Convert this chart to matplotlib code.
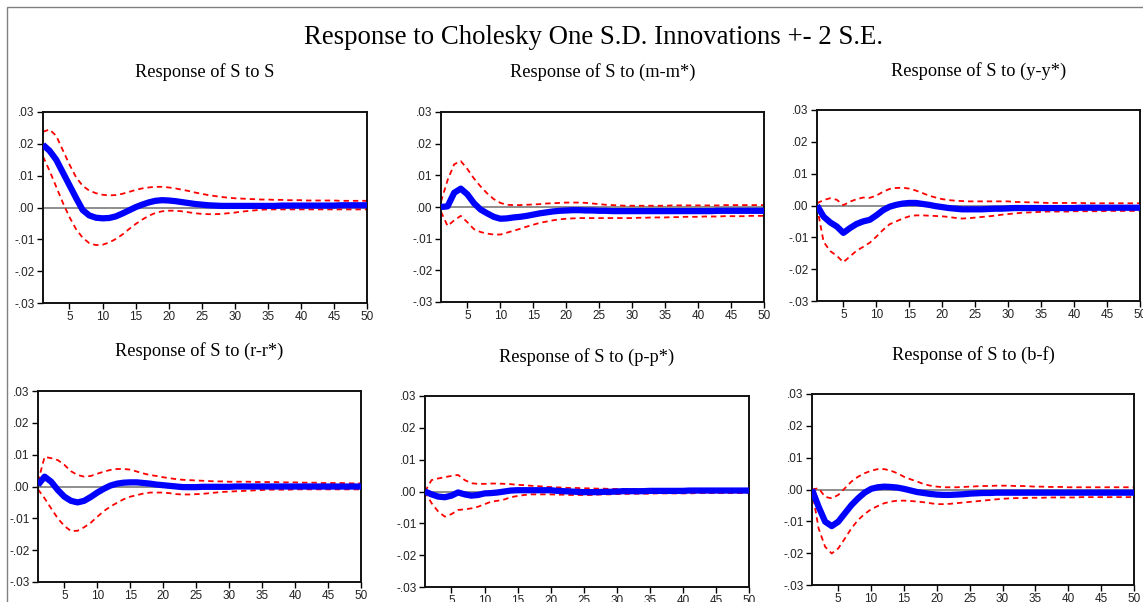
import matplotlib
matplotlib.use("Agg")
import matplotlib.pyplot as plt
from matplotlib.patches import Rectangle
from matplotlib.ticker import FuncFormatter

periods = list(range(1, 51))

titles = ["Response of S to S", "Response of S to (m-m*)", "Response of S to (y-y*)",
          "Response of S to (r-r*)", "Response of S to (p-p*)", "Response of S to (b-f)"]

p1_mid = [0.0197,0.0178,0.0150,0.0110,0.0070,0.0030,-0.0008,-0.0025,-0.0032,-0.0034,
          -0.0033,-0.0028,-0.0019,-0.0009,0.0001,0.0009,0.0016,0.0021,0.0023,0.0022,
          0.0020,0.0017,0.0014,0.0011,0.0009,0.0007,0.0006,0.0005,0.0005,0.0005,
          0.0005,0.0005,0.0005,0.0005,0.0005,0.0005,0.0006,0.0006,0.0006,0.0006,
          0.0006,0.0006,0.0006,0.0006,0.0006,0.0007,0.0007,0.0007,0.0007,0.0007]
p1_up = [0.0238,0.0245,0.0225,0.0180,0.0135,0.0095,0.0068,0.0053,0.0045,0.0040,
         0.0038,0.0039,0.0043,0.0049,0.0055,0.0060,0.0063,0.0065,0.0065,0.0063,
         0.0060,0.0056,0.0052,0.0047,0.0043,0.0039,0.0036,0.0033,0.0031,0.0029,
         0.0028,0.0027,0.0026,0.0025,0.0025,0.0024,0.0024,0.0023,0.0023,0.0023,
         0.0022,0.0022,0.0022,0.0022,0.0022,0.0021,0.0021,0.0021,0.0021,0.0021]
p1_lo = [0.0160,0.0115,0.0065,0.0015,-0.0030,-0.0068,-0.0095,-0.0112,-0.0118,-0.0117,
         -0.0110,-0.0099,-0.0085,-0.0068,-0.0052,-0.0038,-0.0026,-0.0017,-0.0012,-0.0010,
         -0.0010,-0.0012,-0.0015,-0.0018,-0.0020,-0.0021,-0.0021,-0.0020,-0.0018,-0.0016,
         -0.0013,-0.0011,-0.0009,-0.0007,-0.0006,-0.0006,-0.0006,-0.0006,-0.0006,-0.0006,
         -0.0006,-0.0006,-0.0006,-0.0006,-0.0006,-0.0006,-0.0006,-0.0006,-0.0006,-0.0006]

p2_mid = [0.0000,0.0002,0.0045,0.0058,0.0040,0.0012,-0.0008,-0.0020,-0.0031,-0.0037,
          -0.0036,-0.0033,-0.0031,-0.0028,-0.0024,-0.0020,-0.0017,-0.0014,-0.0012,-0.0011,
          -0.0010,-0.0010,-0.0011,-0.0011,-0.0012,-0.0012,-0.0013,-0.0013,-0.0013,-0.0013,
          -0.0013,-0.0013,-0.0013,-0.0013,-0.0013,-0.0013,-0.0013,-0.0013,-0.0013,-0.0013,
          -0.0013,-0.0013,-0.0012,-0.0012,-0.0012,-0.0012,-0.0012,-0.0012,-0.0012,-0.0012]
p2_up = [0.0017,0.0085,0.0135,0.0145,0.0120,0.0090,0.0065,0.0043,0.0025,0.0013,
         0.0007,0.0006,0.0006,0.0007,0.0008,0.0009,0.0011,0.0012,0.0013,0.0014,
         0.0014,0.0014,0.0013,0.0011,0.0009,0.0007,0.0006,0.0005,0.0004,0.0004,
         0.0004,0.0004,0.0004,0.0004,0.0004,0.0005,0.0005,0.0005,0.0005,0.0005,
         0.0005,0.0005,0.0005,0.0006,0.0006,0.0006,0.0006,0.0006,0.0006,0.0006]
p2_lo = [-0.0015,-0.0060,-0.0042,-0.0028,-0.0048,-0.0070,-0.0079,-0.0084,-0.0087,-0.0087,
         -0.0081,-0.0075,-0.0069,-0.0062,-0.0056,-0.0050,-0.0046,-0.0042,-0.0039,-0.0037,
         -0.0036,-0.0035,-0.0035,-0.0035,-0.0035,-0.0035,-0.0035,-0.0035,-0.0035,-0.0035,
         -0.0034,-0.0034,-0.0033,-0.0033,-0.0033,-0.0032,-0.0032,-0.0031,-0.0031,-0.0031,
         -0.0030,-0.0030,-0.0030,-0.0029,-0.0029,-0.0029,-0.0029,-0.0028,-0.0028,-0.0028]

p3_mid = [0.0000,-0.0035,-0.0053,-0.0066,-0.0086,-0.0071,-0.0058,-0.0050,-0.0045,-0.0031,
          -0.0015,-0.0004,0.0002,0.0006,0.0008,0.0008,0.0005,0.0002,-0.0002,-0.0005,
          -0.0008,-0.0010,-0.0012,-0.0012,-0.0012,-0.0012,-0.0011,-0.0010,-0.0010,-0.0009,
          -0.0008,-0.0008,-0.0008,-0.0008,-0.0008,-0.0008,-0.0008,-0.0008,-0.0008,-0.0008,
          -0.0007,-0.0007,-0.0007,-0.0007,-0.0007,-0.0007,-0.0007,-0.0007,-0.0007,-0.0007]
p3_up = [0.0007,0.0017,0.0023,0.0018,0.0001,0.0012,0.0020,0.0025,0.0024,0.0031,
         0.0043,0.0052,0.0055,0.0056,0.0053,0.0047,0.0039,0.0031,0.0025,0.0020,
         0.0017,0.0015,0.0014,0.0013,0.0013,0.0013,0.0013,0.0013,0.0013,0.0013,
         0.0011,0.0011,0.0010,0.0010,0.0009,0.0008,0.0008,0.0008,0.0008,0.0008,
         0.0008,0.0007,0.0007,0.0007,0.0007,0.0007,0.0007,0.0007,0.0007,0.0007]
p3_lo = [-0.0004,-0.0114,-0.0143,-0.0158,-0.0178,-0.0160,-0.0142,-0.0130,-0.0117,-0.0098,
         -0.0077,-0.0059,-0.0050,-0.0041,-0.0034,-0.0031,-0.0031,-0.0032,-0.0033,-0.0034,
         -0.0036,-0.0039,-0.0041,-0.0040,-0.0038,-0.0036,-0.0034,-0.0032,-0.0029,-0.0027,
         -0.0025,-0.0023,-0.0022,-0.0021,-0.0020,-0.0019,-0.0019,-0.0019,-0.0019,-0.0018,
         -0.0018,-0.0018,-0.0018,-0.0018,-0.0017,-0.0017,-0.0017,-0.0017,-0.0017,-0.0017]

p4_mid = [0.0005,0.0031,0.0015,-0.0011,-0.0032,-0.0045,-0.0050,-0.0045,-0.0033,-0.0019,
          -0.0007,0.0003,0.0009,0.0012,0.0013,0.0013,0.0011,0.0009,0.0006,0.0004,
          0.0002,0.0000,-0.0002,-0.0002,-0.0002,-0.0001,-0.0001,-0.0001,-0.0001,-0.0001,
          0.0000,0.0000,0.0000,0.0000,0.0000,0.0000,0.0000,0.0000,0.0000,0.0000,
          0.0000,0.0000,0.0000,0.0000,0.0000,0.0000,0.0000,0.0000,0.0000,0.0000]
p4_up = [0.0015,0.0093,0.0089,0.0083,0.0068,0.0048,0.0036,0.0031,0.0033,0.0040,
         0.0047,0.0052,0.0055,0.0055,0.0053,0.0047,0.0041,0.0036,0.0033,0.0029,
         0.0026,0.0023,0.0021,0.0020,0.0019,0.0018,0.0017,0.0016,0.0016,0.0015,
         0.0015,0.0015,0.0015,0.0014,0.0014,0.0014,0.0014,0.0013,0.0013,0.0013,
         0.0012,0.0012,0.0012,0.0011,0.0011,0.0011,0.0011,0.0010,0.0010,0.0010]
p4_lo = [-0.0009,-0.0037,-0.0069,-0.0100,-0.0124,-0.0140,-0.0139,-0.0128,-0.0114,-0.0095,
         -0.0077,-0.0063,-0.0051,-0.0040,-0.0032,-0.0027,-0.0022,-0.0019,-0.0019,-0.0019,
         -0.0021,-0.0024,-0.0025,-0.0025,-0.0024,-0.0023,-0.0021,-0.0019,-0.0017,-0.0016,
         -0.0015,-0.0014,-0.0013,-0.0012,-0.0011,-0.0010,-0.0010,-0.0010,-0.0010,-0.0009,
         -0.0009,-0.0009,-0.0009,-0.0009,-0.0009,-0.0009,-0.0009,-0.0009,-0.0009,-0.0009]

p5_mid = [0.0000,-0.0009,-0.0016,-0.0018,-0.0013,-0.0003,-0.0009,-0.0013,-0.0011,-0.0006,
          -0.0005,-0.0003,0.0000,0.0003,0.0004,0.0004,0.0004,0.0004,0.0004,0.0004,
          0.0002,0.0001,0.0000,-0.0001,-0.0002,-0.0002,-0.0002,-0.0001,-0.0001,0.0000,
          0.0001,0.0001,0.0001,0.0001,0.0002,0.0002,0.0002,0.0002,0.0002,0.0002,
          0.0003,0.0003,0.0003,0.0003,0.0003,0.0003,0.0003,0.0003,0.0003,0.0003]
p5_up = [0.0000,0.0036,0.0041,0.0045,0.0049,0.0052,0.0036,0.0026,0.0024,0.0024,
         0.0025,0.0025,0.0024,0.0023,0.0021,0.0020,0.0018,0.0017,0.0015,0.0014,
         0.0013,0.0012,0.0011,0.0011,0.0010,0.0010,0.0009,0.0009,0.0008,0.0008,
         0.0008,0.0008,0.0008,0.0007,0.0007,0.0007,0.0007,0.0007,0.0007,0.0007,
         0.0007,0.0007,0.0007,0.0007,0.0007,0.0007,0.0007,0.0007,0.0007,0.0007]
p5_lo = [0.0000,-0.0037,-0.0063,-0.0079,-0.0071,-0.0058,-0.0056,-0.0053,-0.0048,-0.0040,
         -0.0032,-0.0029,-0.0025,-0.0018,-0.0014,-0.0011,-0.0009,-0.0009,-0.0009,-0.0009,
         -0.0010,-0.0010,-0.0011,-0.0011,-0.0011,-0.0011,-0.0010,-0.0009,-0.0009,-0.0008,
         -0.0008,-0.0007,-0.0007,-0.0007,-0.0007,-0.0006,-0.0006,-0.0006,-0.0006,-0.0006,
         -0.0006,-0.0005,-0.0005,-0.0005,-0.0005,-0.0005,-0.0005,-0.0005,-0.0005,-0.0005]

p6_mid = [0.0000,-0.0054,-0.0101,-0.0115,-0.0101,-0.0075,-0.0049,-0.0028,-0.0010,0.0002,
          0.0007,0.0009,0.0008,0.0006,0.0002,-0.0003,-0.0008,-0.0011,-0.0014,-0.0016,
          -0.0017,-0.0017,-0.0016,-0.0015,-0.0013,-0.0012,-0.0011,-0.0011,-0.0010,-0.0010,
          -0.0010,-0.0010,-0.0010,-0.0010,-0.0010,-0.0010,-0.0010,-0.0010,-0.0010,-0.0010,
          -0.0010,-0.0010,-0.0010,-0.0010,-0.0010,-0.0010,-0.0010,-0.0010,-0.0010,-0.0010]
p6_up = [0.0000,0.0004,-0.0023,-0.0028,-0.0017,0.0004,0.0025,0.0040,0.0051,0.0059,
         0.0064,0.0064,0.0059,0.0051,0.0040,0.0032,0.0025,0.0017,0.0012,0.0009,
         0.0007,0.0007,0.0007,0.0008,0.0009,0.0010,0.0011,0.0011,0.0012,0.0012,
         0.0012,0.0011,0.0011,0.0010,0.0009,0.0009,0.0008,0.0008,0.0008,0.0007,
         0.0007,0.0007,0.0007,0.0007,0.0007,0.0007,0.0007,0.0007,0.0007,0.0007]
p6_lo = [0.0000,-0.0122,-0.0180,-0.0201,-0.0185,-0.0154,-0.0122,-0.0096,-0.0077,-0.0062,
         -0.0052,-0.0043,-0.0038,-0.0035,-0.0035,-0.0036,-0.0038,-0.0040,-0.0043,-0.0046,
         -0.0046,-0.0045,-0.0043,-0.0041,-0.0039,-0.0037,-0.0035,-0.0033,-0.0031,-0.0029,
         -0.0028,-0.0027,-0.0027,-0.0026,-0.0026,-0.0026,-0.0025,-0.0025,-0.0025,-0.0025,
         -0.0025,-0.0024,-0.0024,-0.0024,-0.0024,-0.0024,-0.0024,-0.0024,-0.0024,-0.0024]

y_ticks = [-0.03, -0.02, -0.01, 0.0, 0.01, 0.02, 0.03]
x_ticks = [5, 10, 15, 20, 25, 30, 35, 40, 45, 50]

series = [(p1_mid, p1_up, p1_lo), (p2_mid, p2_up, p2_lo), (p3_mid, p3_up, p3_lo),
          (p4_mid, p4_up, p4_lo), (p5_mid, p5_up, p5_lo), (p6_mid, p6_up, p6_lo)]

W, H = 1143, 602
# pixel boxes: left, right, top, bottom ; title y
boxes = [(43, 367, 112, 303, 72), (441, 764, 112, 302, 72), (817, 1140, 110, 301, 71),
         (38, 361, 391, 582, 351), (425, 749, 396, 587, 357), (812, 1134, 394, 585, 355)]

fig = plt.figure(figsize=(W/100, H/100), dpi=100)
fig.patch.set_facecolor("white")

# outer frame
fig.patches.append(Rectangle((7/W, -0.1), 1.2, (H-7)/H + 0.1, transform=fig.transFigure,
                             fill=False, edgecolor="#808080", linewidth=1.0))

fig.text(594/W, 1 - 37/H, "Response to Cholesky One S.D. Innovations +- 2 S.E.",
         family="Liberation Serif", fontsize=19.3, ha="center", va="center", color="black")

def fmt(v, pos):
    s = "%.2f" % v
    if s.startswith("-0"):
        s = "-" + s[2:]
    elif s.startswith("0"):
        s = s[1:]
    return s

for (l, r, t, b, ty), title, (mid, up, lo) in zip(boxes, titles, series):
    ax = fig.add_axes([l/W, 1 - b/H, (r-l)/W, (b-t)/H])
    ax.axhline(0, color="#707070", linewidth=1.1, zorder=1)
    ax.plot(periods, up, color="#ff0000", linewidth=1.3, linestyle=(0, (3.0, 2.2)), zorder=2)
    ax.plot(periods, lo, color="#ff0000", linewidth=1.3, linestyle=(0, (3.0, 2.2)), zorder=2)
    ax.plot(periods, mid, color="#0000ff", linewidth=4.5, solid_capstyle="butt", zorder=3)
    ax.set_xlim(1, 50)
    ax.set_ylim(-0.03, 0.03)
    ax.set_yticks(y_ticks)
    ax.set_xticks(x_ticks)
    ax.yaxis.set_major_formatter(FuncFormatter(fmt))
    ax.tick_params(direction="out", length=4, width=1, labelsize=8.5, pad=2, colors="black")
    for lab in ax.get_xticklabels() + ax.get_yticklabels():
        lab.set_family("Liberation Sans")
        lab.set_color("#222222")
    for sp in ax.spines.values():
        sp.set_linewidth(1.4)
        sp.set_color("#111111")
    fig.text((l + r) / 2 / W, 1 - ty/H, title, family="Liberation Serif", fontsize=13.2,
             ha="center", va="center", color="black")

fig.savefig("out.png", dpi=100)
